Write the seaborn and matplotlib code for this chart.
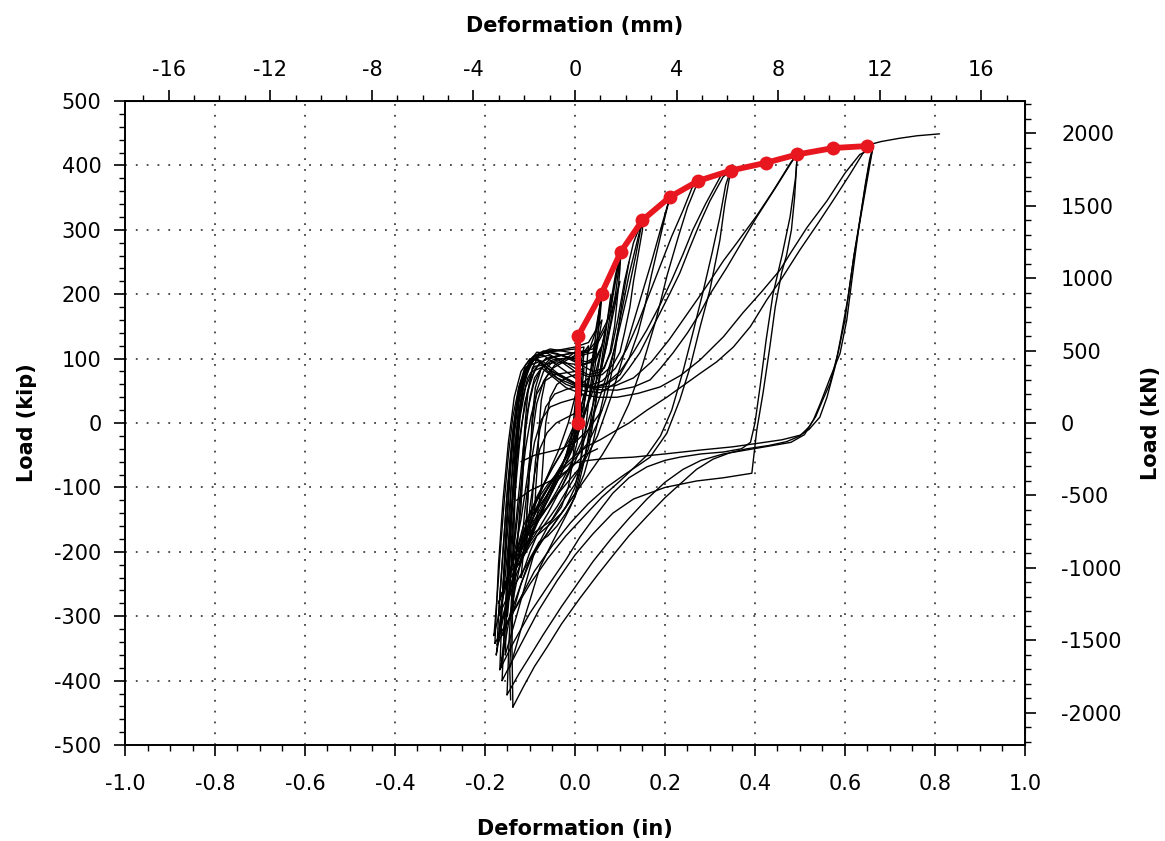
import matplotlib
matplotlib.use('Agg')
import matplotlib.pyplot as plt
import matplotlib.ticker as mticker
import seaborn as sns
import pandas as pd

# envelope points (red), deformation in inches, load in kip
env_x = [0.007, 0.007, 0.059, 0.102, 0.150, 0.211, 0.274, 0.346, 0.424, 0.494, 0.574, 0.648]
env_y = [0, 135, 201, 266, 315, 351, 376, 392, 404, 417, 427, 430]

mm_ticks = [-16, -12, -8, -4, 0, 4, 8, 12, 16]
kn_ticks = [-2000, -1500, -1000, -500, 0, 500, 1000, 1500, 2000]

# hysteresis traces, (in, kip)
backbone = [(0, 0), (0.004, 70), (0.007, 135), (0.03, 170), (0.059, 201), (0.08, 235), (0.102, 266),
            (0.125, 292), (0.15, 316), (0.18, 336), (0.211, 351), (0.24, 364), (0.274, 376), (0.31, 385),
            (0.346, 392), (0.385, 398), (0.424, 404), (0.46, 411), (0.494, 417), (0.53, 422), (0.574, 427),
            (0.61, 429), (0.648, 431), (0.68, 437), (0.72, 442), (0.76, 446), (0.81, 449)]

loop_a = [(-0.138, -441), (-0.115, -410), (-0.09, -378), (-0.062, -348), (-0.03, -312), (0.011, -272),
          (0.05, -236), (0.084, -206), (0.12, -175), (0.16, -145), (0.2, -116), (0.233, -95), (0.27, -72),
          (0.307, -56), (0.345, -46), (0.382, -40), (0.43, -35), (0.47, -29), (0.5, -20), (0.52, -6),
          (0.535, 10), (0.55, 35), (0.567, 62), (0.585, 110), (0.6, 160), (0.607, 196), (0.62, 260),
          (0.64, 345), (0.652, 395), (0.662, 428), (0.645, 421), (0.633, 417), (0.6, 388), (0.56, 345),
          (0.516, 304), (0.48, 265), (0.456, 238), (0.415, 204), (0.373, 171), (0.33, 134), (0.278, 98),
          (0.235, 74), (0.189, 56), (0.14, 46), (0.093, 40), (0.05, 40), (0.02, 44), (-0.02, 55),
          (-0.05, 72), (-0.075, 86), (-0.095, 80), (-0.11, 55), (-0.122, 10), (-0.13, -60), (-0.135, -150),
          (-0.138, -250), (-0.14, -350), (-0.138, -441)]

loop_b = [(-0.151, -422), (-0.125, -390), (-0.1, -362), (-0.07, -328), (-0.03, -285), (0.0, -255),
          (0.04, -215), (0.08, -180), (0.12, -148), (0.16, -118), (0.2, -92), (0.24, -72), (0.28, -58),
          (0.33, -48), (0.38, -42), (0.43, -36), (0.48, -30), (0.51, -18), (0.53, 5), (0.545, 30),
          (0.567, 70), (0.589, 108), (0.604, 160), (0.615, 220), (0.63, 300), (0.645, 370), (0.655, 410),
          (0.662, 428), (0.64, 419), (0.61, 385), (0.574, 346), (0.54, 310), (0.5, 269), (0.46, 225),
          (0.426, 191), (0.39, 150), (0.352, 118), (0.315, 95), (0.278, 77), (0.24, 58), (0.204, 40),
          (0.16, 20), (0.12, 0), (0.09, -12), (0.056, -26), (0.03, -35), (0.0, -50), (-0.03, -70),
          (-0.06, -95), (-0.09, -125), (-0.115, -160), (-0.13, -200), (-0.14, -260), (-0.146, -330),
          (-0.151, -422)]

loop_a3 = [(0.662, 428), (0.655, 400), (0.64, 340), (0.62, 260), (0.607, 196), (0.59, 130), (0.578, 87),
           (0.56, 40), (0.544, 9), (0.52, -10), (0.5, -19), (0.46, -26), (0.411, -31), (0.35, -37),
           (0.278, -42), (0.2, -48), (0.129, -53), (0.07, -55), (0.03, -58), (0.0, -62), (-0.04, -90),
           (-0.08, -130), (-0.11, -170), (-0.13, -220), (-0.14, -300), (-0.145, -380), (-0.143, -430)]

loop_c = [(-0.162, -400), (-0.14, -370), (-0.11, -330), (-0.08, -290), (-0.04, -245), (0.0, -205),
          (0.04, -172), (0.084, -140), (0.13, -118), (0.2, -100), (0.27, -90), (0.33, -85), (0.393, -78),
          (0.404, -11), (0.418, 47), (0.433, 118), (0.445, 180), (0.459, 233), (0.47, 260), (0.481, 300),
          (0.488, 350), (0.494, 417), (0.484, 408), (0.45, 370), (0.404, 320), (0.37, 280), (0.338, 242),
          (0.3, 200), (0.278, 171), (0.25, 140), (0.218, 109), (0.19, 85), (0.167, 67), (0.13, 56),
          (0.093, 51), (0.05, 52), (0.0, 60), (-0.04, 75), (-0.07, 90), (-0.09, 88), (-0.105, 70),
          (-0.118, 35), (-0.128, -20), (-0.138, -100), (-0.148, -200), (-0.156, -300), (-0.162, -400)]

loop_d = [(-0.167, -383), (-0.14, -345), (-0.1, -295), (-0.062, -255), (-0.02, -212), (0.011, -177),
          (0.05, -140), (0.084, -109), (0.12, -85), (0.16, -68), (0.2, -58), (0.233, -53), (0.28, -48),
          (0.33, -45), (0.37, -40), (0.39, -30), (0.4, 0), (0.412, 60), (0.425, 130), (0.44, 200),
          (0.46, 260), (0.478, 320), (0.49, 380), (0.494, 417), (0.48, 405), (0.44, 360), (0.404, 322),
          (0.36, 280), (0.33, 252), (0.29, 210), (0.25, 170), (0.21, 130), (0.17, 95), (0.13, 70),
          (0.09, 58), (0.05, 55), (0.0, 62), (-0.05, 80), (-0.08, 95), (-0.1, 90), (-0.115, 65),
          (-0.13, 20), (-0.142, -50), (-0.152, -150), (-0.16, -250), (-0.167, -383)]

loop_e = [(-0.173, -345), (-0.15, -310), (-0.12, -270), (-0.09, -230), (-0.05, -190), (-0.01, -155),
          (0.03, -125), (0.07, -100), (0.11, -80), (0.14, -66), (0.167, -53), (0.204, -16), (0.233, 36),
          (0.256, 87), (0.278, 149), (0.3, 207), (0.322, 284), (0.333, 340), (0.346, 392), (0.329, 382),
          (0.3, 345), (0.278, 311), (0.255, 272), (0.233, 233), (0.21, 200), (0.189, 171), (0.165, 138),
          (0.144, 109), (0.12, 85), (0.1, 67), (0.075, 55), (0.056, 47), (0.02, 50), (-0.02, 60),
          (-0.06, 80), (-0.085, 100), (-0.1, 95), (-0.115, 75), (-0.128, 35), (-0.14, -30),
          (-0.152, -120), (-0.162, -220), (-0.17, -300), (-0.173, -345)]

loop_f = [(-0.178, -342), (-0.16, -320), (-0.13, -285), (-0.1, -250), (-0.06, -210), (-0.02, -175),
          (0.02, -145), (0.06, -115), (0.1, -90), (0.13, -70), (0.16, -50), (0.19, -20), (0.215, 20),
          (0.24, 80), (0.262, 140), (0.285, 205), (0.305, 265), (0.322, 320), (0.335, 370), (0.346, 392),
          (0.325, 385), (0.29, 340), (0.262, 300), (0.24, 262), (0.215, 222), (0.19, 185), (0.16, 145),
          (0.13, 110), (0.1, 80), (0.07, 62), (0.04, 55), (0.0, 58), (-0.04, 70), (-0.075, 95),
          (-0.1, 100), (-0.12, 80), (-0.135, 40), (-0.148, -30), (-0.16, -120), (-0.17, -220),
          (-0.178, -342)]

loop_g = [(-0.17, -300), (-0.15, -270), (-0.12, -235), (-0.09, -200), (-0.06, -170), (-0.03, -140),
          (0.0, -110), (0.03, -80), (0.06, -50), (0.09, -15), (0.12, 30), (0.15, 90), (0.18, 160),
          (0.205, 230), (0.23, 290), (0.25, 335), (0.274, 376), (0.26, 365), (0.24, 330), (0.215, 290),
          (0.19, 245), (0.165, 200), (0.14, 155), (0.115, 115), (0.09, 85), (0.06, 65), (0.03, 58),
          (0.0, 62), (-0.04, 78), (-0.07, 95), (-0.09, 100), (-0.11, 85), (-0.125, 50), (-0.138, -10),
          (-0.15, -100), (-0.16, -200), (-0.17, -300)]

loop_h = [(-0.16, -260), (-0.13, -225), (-0.1, -190), (-0.07, -160), (-0.04, -130), (-0.01, -95),
          (0.02, -60), (0.05, -20), (0.08, 40), (0.11, 110), (0.14, 180), (0.17, 250), (0.19, 300),
          (0.211, 351), (0.2, 320), (0.185, 275), (0.17, 230), (0.155, 180), (0.14, 140), (0.12, 100),
          (0.1, 75), (0.07, 60), (0.04, 55), (0.0, 70), (-0.04, 90), (-0.07, 105), (-0.09, 105),
          (-0.11, 90), (-0.125, 55), (-0.135, 0), (-0.145, -90), (-0.153, -180), (-0.16, -260)]

loop_s4 = [(-0.15, -240), (-0.12, -205), (-0.09, -175), (-0.06, -140), (-0.03, -100), (0.0, -60),
           (0.03, -10), (0.06, 50), (0.09, 120), (0.12, 210), (0.135, 260), (0.15, 316), (0.15, 300),
           (0.14, 260), (0.13, 220), (0.122, 180), (0.11, 140), (0.1, 110), (0.084, 90), (0.06, 75),
           (0.03, 72), (0.0, 80), (-0.03, 95), (-0.06, 108), (-0.085, 110), (-0.1, 95), (-0.115, 60),
           (-0.125, 10), (-0.133, -60), (-0.14, -140), (-0.15, -240)]

loop_s3 = [(-0.13, -200), (-0.1, -170), (-0.07, -140), (-0.04, -105), (-0.01, -65), (0.02, -20),
           (0.045, 40), (0.07, 120), (0.09, 200), (0.102, 266), (0.1, 240), (0.095, 200), (0.088, 150),
           (0.078, 110), (0.065, 85), (0.04, 80), (0.0, 95), (-0.03, 105), (-0.06, 110), (-0.08, 105),
           (-0.095, 85), (-0.105, 45), (-0.112, -10), (-0.118, -80), (-0.123, -140), (-0.13, -200)]

loop_s2 = [(-0.11, -175), (-0.085, -150), (-0.06, -120), (-0.035, -85), (-0.01, -45), (0.01, 0),
           (0.03, 60), (0.045, 130), (0.059, 201), (0.055, 170), (0.05, 130), (0.04, 100), (0.025, 95),
           (0.0, 100), (-0.03, 105), (-0.055, 100), (-0.075, 85), (-0.088, 55), (-0.095, 10),
           (-0.1, -60), (-0.105, -120), (-0.11, -175)]

loop_s1 = [(-0.09, -140), (-0.065, -115), (-0.04, -85), (-0.02, -50), (-0.005, -10), (0.003, 50),
           (0.007, 135), (0.0, 110), (-0.02, 100), (-0.045, 90), (-0.065, 70), (-0.075, 35), (-0.08, -10),
           (-0.083, -60), (-0.087, -100), (-0.09, -140)]

loop_t1 = [(-0.144, -379), (-0.12, -320), (-0.1, -275), (-0.078, -224), (-0.04, -171), (-0.01, -130),
           (0.02, -80), (0.04, -30), (0.06, 30), (0.08, 90), (0.1, 160), (0.12, 230), (0.15, 316),
           (0.13, 280), (0.11, 220), (0.095, 160), (0.08, 110), (0.06, 80), (0.03, 75), (0.0, 85),
           (-0.03, 98), (-0.06, 105), (-0.09, 100), (-0.11, 80), (-0.125, 40), (-0.135, -20),
           (-0.142, -100), (-0.148, -200), (-0.152, -300), (-0.155, -360)]

loop_t2 = [(-0.155, -360), (-0.13, -300), (-0.11, -250), (-0.09, -200), (-0.06, -160), (-0.03, -125),
           (0.0, -95), (0.02, -60), (0.035, -10), (0.05, 50), (0.07, 130), (0.085, 200), (0.102, 266),
           (0.09, 230), (0.075, 170), (0.06, 120), (0.045, 95), (0.02, 92), (-0.01, 100), (-0.04, 108),
           (-0.07, 112), (-0.095, 102), (-0.112, 75), (-0.125, 30), (-0.133, -40), (-0.14, -130),
           (-0.147, -230), (-0.155, -300), (-0.16, -330)]

loop_t3 = [(-0.16, -330), (-0.14, -290), (-0.12, -250), (-0.1, -215), (-0.075, -185), (-0.05, -160),
           (-0.02, -130), (0.0, -100), (0.015, -50), (0.025, 0), (0.035, 60), (0.045, 110), (0.055, 160),
           (0.06, 200), (0.055, 180), (0.045, 140), (0.03, 110), (0.0, 108), (-0.03, 112), (-0.055, 115),
           (-0.08, 108), (-0.1, 90), (-0.115, 55), (-0.125, 0), (-0.132, -80), (-0.138, -170),
           (-0.145, -260), (-0.15, -300)]

loop_t4 = [(-0.12, -240), (-0.1, -200), (-0.085, -175), (-0.06, -160), (-0.03, -140), (0.0, -110),
           (0.01, -80), (0.015, -40), (0.02, 20), (0.025, 80), (0.03, 120), (0.02, 110), (0.0, 100),
           (-0.03, 100), (-0.05, 95), (-0.07, 80), (-0.085, 50), (-0.095, 0), (-0.1, -60), (-0.105, -120),
           (-0.11, -170), (-0.12, -240)]

loop_t5 = [(-0.17, -280), (-0.15, -240), (-0.13, -200), (-0.115, -170), (-0.09, -150), (-0.06, -130),
           (-0.03, -100), (-0.01, -70), (0.005, -30), (0.01, 20), (0.015, 70), (0.02, 110), (0.0, 105),
           (-0.025, 95), (-0.05, 85), (-0.07, 65), (-0.085, 30), (-0.095, -20), (-0.105, -80),
           (-0.12, -150), (-0.14, -220), (-0.17, -280)]

loop_u1 = [(-0.175, -360), (-0.165, -300), (-0.158, -240), (-0.15, -170), (-0.142, -100), (-0.133, -30),
           (-0.122, 30), (-0.108, 75), (-0.09, 100), (-0.065, 110), (-0.035, 112), (0.0, 115), (0.02, 118),
           (0.01, 80), (0.0, 40), (-0.015, 0), (-0.035, -40), (-0.06, -80), (-0.09, -130), (-0.12, -190),
           (-0.145, -260), (-0.165, -320), (-0.175, -360)]

loop_u2 = [(-0.168, -320), (-0.158, -260), (-0.15, -200), (-0.14, -130), (-0.13, -60), (-0.118, 0),
           (-0.105, 50), (-0.088, 85), (-0.065, 100), (-0.04, 104), (-0.01, 108), (0.03, 112), (0.05, 130),
           (0.045, 90), (0.035, 50), (0.02, 10), (0.0, -30), (-0.03, -65), (-0.06, -100), (-0.09, -140),
           (-0.12, -200), (-0.145, -260), (-0.168, -320)]

loop_u3 = [(-0.165, -380), (-0.155, -320), (-0.145, -250), (-0.135, -180), (-0.125, -110), (-0.115, -40),
           (-0.105, 20), (-0.092, 60), (-0.075, 85), (-0.05, 98), (-0.02, 100), (0.01, 104), (0.04, 110),
           (0.07, 150), (0.06, 120), (0.05, 90), (0.04, 60), (0.025, 20), (0.005, -20), (-0.02, -55),
           (-0.05, -90), (-0.08, -125), (-0.1, -160), (-0.125, -230), (-0.145, -300), (-0.165, -380)]

loop_u4 = [(-0.15, -280), (-0.14, -220), (-0.13, -160), (-0.12, -100), (-0.11, -40), (-0.098, 10),
           (-0.085, 45), (-0.068, 65), (-0.045, 75), (-0.02, 78), (0.0, 80), (0.02, 85), (0.015, 50),
           (0.005, 10), (-0.01, -30), (-0.03, -70), (-0.055, -110), (-0.08, -150), (-0.105, -190),
           (-0.13, -235), (-0.15, -280)]

loop_u5 = [(-0.18, -330), (-0.172, -260), (-0.165, -190), (-0.157, -120), (-0.148, -50), (-0.138, 10),
           (-0.125, 55), (-0.11, 85), (-0.09, 103), (-0.06, 112), (-0.03, 114), (0.0, 118), (0.03, 125),
           (0.06, 160), (0.05, 120), (0.035, 80), (0.02, 40), (0.0, 0), (-0.025, -40), (-0.055, -75),
           (-0.085, -115), (-0.11, -160), (-0.135, -210), (-0.16, -270), (-0.18, -330)]

loop_u6 = [(-0.14, -300), (-0.12, -250), (-0.1, -210), (-0.08, -185), (-0.06, -175), (-0.04, -160),
           (-0.02, -140), (0.0, -115), (0.01, -90), (0.02, -60), (0.03, -20), (0.04, 30), (0.05, 80),
           (0.06, 120), (0.045, 100), (0.02, 90), (-0.01, 92), (-0.04, 95), (-0.07, 90), (-0.09, 70),
           (-0.1, 40), (-0.11, -10), (-0.115, -70), (-0.12, -130), (-0.13, -200), (-0.14, -300)]

loop_u7 = [(-0.125, -220), (-0.11, -190), (-0.09, -170), (-0.07, -160), (-0.05, -150), (-0.03, -130),
           (-0.015, -100), (-0.005, -60), (0.0, -20), (0.005, 30), (0.01, 80), (0.0, 75), (-0.02, 70),
           (-0.04, 60), (-0.055, 40), (-0.065, 0), (-0.07, -50), (-0.075, -100), (-0.085, -150),
           (-0.1, -185), (-0.125, -220)]

loop_u8 = [(-0.155, -300), (-0.147, -240), (-0.14, -170), (-0.132, -100), (-0.123, -30), (-0.112, 30),
           (-0.098, 70), (-0.08, 92), (-0.055, 102), (-0.025, 106), (0.005, 110), (0.04, 115), (0.08, 170),
           (0.1, 220), (0.085, 170), (0.07, 120), (0.055, 80), (0.035, 40), (0.01, 0), (-0.02, -35),
           (-0.05, -70), (-0.08, -110), (-0.105, -150), (-0.13, -210), (-0.155, -300)]

loop_v1 = [(-0.1, -175), (-0.095, -120), (-0.088, -60), (-0.078, -10), (-0.065, 25), (-0.045, 45),
           (-0.02, 52), (0.01, 58), (0.03, 70), (0.02, 30), (0.005, -10), (-0.015, -45), (-0.04, -80),
           (-0.065, -120), (-0.085, -150), (-0.1, -175)]

loop_v2 = [(-0.12, -200), (-0.112, -140), (-0.102, -80), (-0.09, -30), (-0.075, 5), (-0.055, 25),
           (-0.03, 32), (0.0, 38), (0.02, 45), (0.01, 10), (-0.005, -25), (-0.025, -60), (-0.05, -95),
           (-0.075, -130), (-0.1, -165), (-0.12, -200)]

loop_v3 = [(-0.108, -190), (-0.1, -130), (-0.09, -80), (-0.078, -40), (-0.062, -15), (-0.042, 0),
           (-0.02, 8), (0.0, 15), (0.015, 25), (0.008, -10), (-0.005, -40), (-0.025, -70), (-0.05, -105),
           (-0.08, -145), (-0.108, -190)]

cross_1 = [(-0.13, -120), (-0.1, -105), (-0.07, -95), (-0.04, -85), (-0.01, -70), (0.02, -50), (0.05, -40)]

cross_2 = [(-0.12, -60), (-0.09, -50), (-0.06, -45), (-0.03, -40), (0.0, -30), (0.03, -10), (0.06, 20)]

drop_1 = [(0.08, 200), (0.07, 150), (0.06, 100), (0.05, 50), (0.04, 0), (0.03, -40), (0.01, -70),
          (-0.02, -95), (-0.05, -120), (-0.08, -150), (-0.1, -175), (-0.12, -210)]

drop_2 = [(0.12, 250), (0.105, 190), (0.095, 140), (0.085, 90), (0.07, 40), (0.05, 0), (0.03, -30),
          (0.0, -55), (-0.04, -80), (-0.07, -110), (-0.1, -150), (-0.115, -185)]

traces = {'backbone': backbone, 'a': loop_a, 'b': loop_b, 'a3': loop_a3, 'c': loop_c, 'd': loop_d,
          'e': loop_e, 'f': loop_f, 'g': loop_g, 'h': loop_h, 's4': loop_s4, 's3': loop_s3,
          's2': loop_s2, 's1': loop_s1, 't1': loop_t1, 't2': loop_t2, 't3': loop_t3, 't4': loop_t4,
          't5': loop_t5, 'u1': loop_u1, 'u2': loop_u2, 'u3': loop_u3, 'u4': loop_u4, 'u5': loop_u5,
          'u6': loop_u6, 'u7': loop_u7, 'u8': loop_u8, 'v1': loop_v1, 'v2': loop_v2, 'v3': loop_v3,
          'x1': cross_1, 'x2': cross_2, 'd1': drop_1, 'd2': drop_2}

rows = []
for name, pts in traces.items():
    for i, (x, y) in enumerate(pts):
        rows.append({'trace': name, 'order': i, 'x': x, 'y': y})
df = pd.DataFrame(rows)
env = pd.DataFrame({'x': env_x, 'y': env_y})

sns.set_style('ticks')
plt.rcParams['font.family'] = ['DejaVu Sans']
plt.rcParams['axes.unicode_minus'] = False
for key in ['text.color', 'axes.labelcolor', 'xtick.color', 'ytick.color']:
    plt.rcParams[key] = 'black'

fig = plt.figure(figsize=(11.65, 8.41), dpi=100)
ax = fig.add_axes([0.1073, 0.1141, 0.7725, 0.7658])

sns.lineplot(data=df, x='x', y='y', units='trace', estimator=None, sort=False,
             color='black', linewidth=1.0, ax=ax)
sns.lineplot(data=env, x='x', y='y', estimator=None, sort=False, color='#e8161e', linewidth=4.2,
             marker='o', markersize=10, markeredgewidth=0, ax=ax, zorder=5)

ax.set_xlim(-1.0, 1.0)
ax.set_ylim(-500, 500)
ax.xaxis.set_major_locator(mticker.MultipleLocator(0.2))
ax.xaxis.set_minor_locator(mticker.MultipleLocator(0.05))
ax.yaxis.set_major_locator(mticker.MultipleLocator(100))
ax.yaxis.set_minor_locator(mticker.MultipleLocator(20))
ax.xaxis.set_major_formatter(mticker.FormatStrFormatter('%.1f'))
ax.grid(True, which='major', color='0.25', linestyle=(0, (1, 5)), linewidth=1.3)
for s in ax.spines.values():
    s.set_linewidth(1.4)
    s.set_color('black')
ax.tick_params(which='major', direction='out', length=8, width=1.2, labelsize=15, colors='black')
ax.tick_params(axis='x', which='major', pad=13)
ax.tick_params(axis='y', which='major', pad=9)
ax.tick_params(which='minor', direction='out', length=4, width=1.0, colors='black')
ax.set_xlabel('Deformation (in)', fontsize=15, fontweight='bold', labelpad=18)
ax.set_ylabel('Load (kip)', fontsize=15, fontweight='bold', labelpad=12)

top = ax.secondary_xaxis('top', functions=(lambda v: v * 17.72, lambda v: v / 17.72))
top.xaxis.set_major_locator(mticker.FixedLocator(mm_ticks))
top.xaxis.set_minor_locator(mticker.FixedLocator(range(-17, 18)))
top.tick_params(which='major', direction='out', length=8, width=1.2, labelsize=15, pad=7)
top.tick_params(which='minor', direction='out', length=4, width=1.0)
top.set_xlabel('Deformation (mm)', fontsize=15, fontweight='bold', labelpad=20)

right = ax.secondary_yaxis('right', functions=(lambda v: v * 4.448, lambda v: v / 4.448))
right.yaxis.set_major_locator(mticker.FixedLocator(kn_ticks))
right.yaxis.set_minor_locator(mticker.FixedLocator(range(-2200, 2201, 100)))
right.tick_params(which='major', direction='out', length=8, width=1.2, labelsize=15, pad=18)
right.tick_params(which='minor', direction='out', length=4, width=1.0)
right.set_ylabel('Load (kN)', fontsize=15, fontweight='bold', labelpad=14)

fig.savefig('out.png', dpi=100)
